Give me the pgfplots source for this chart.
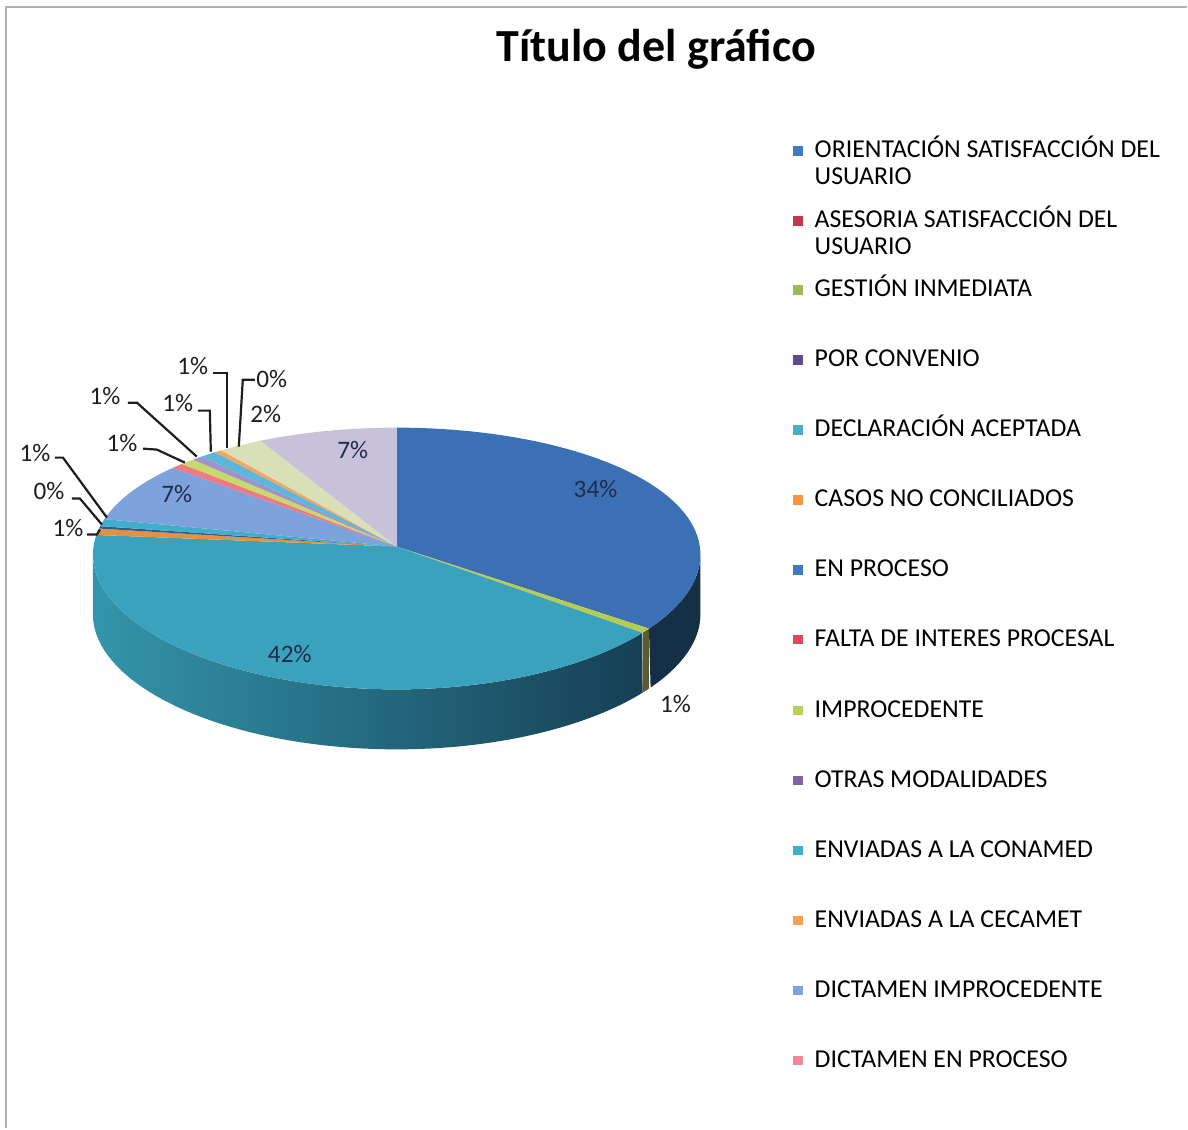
\documentclass[border=0pt]{standalone}
\usepackage{fontspec}
\setmainfont{Carlito}
\usepackage{pgfplots}
\usepackage{pgfplotstable}
\pgfplotsset{compat=1.18}

\definecolor{cOri}{HTML}{3C70B4}
\definecolor{cGes}{HTML}{B9CC4E}
\definecolor{cDec}{HTML}{3BA2BE}
\definecolor{cCas}{HTML}{E8913C}
\definecolor{cEnp}{HTML}{2E5C9A}
\definecolor{cAqa}{HTML}{3FAFCB}
\definecolor{cDim}{HTML}{7DA2DC}
\definecolor{cPnk}{HTML}{EE7A85}
\definecolor{cYgr}{HTML}{C6D96C}
\definecolor{cPur}{HTML}{9F93C9}
\definecolor{cAqb}{HTML}{5DB7DB}
\definecolor{cOrb}{HTML}{F2A65E}
\definecolor{cLgr}{HTML}{D9DFB7}
\definecolor{cLav}{HTML}{C7C1DA}
\definecolor{wOri}{HTML}{152F47}
\definecolor{wGes}{HTML}{5E5A30}
\definecolor{wDecL}{HTML}{3395AB}
\definecolor{wDecM}{HTML}{2A7C90}
\definecolor{wDecR}{HTML}{163F55}
% legend colours
\definecolor{lA}{HTML}{3E7CC0}
\definecolor{lB}{HTML}{C0394A}
\definecolor{lC}{HTML}{9BBB59}
\definecolor{lD}{HTML}{604A8B}
\definecolor{lE}{HTML}{4BACC6}
\definecolor{lF}{HTML}{F79646}
\definecolor{lG}{HTML}{3E7CC0}
\definecolor{lH}{HTML}{E0485A}
\definecolor{lI}{HTML}{B5D35A}
\definecolor{lJ}{HTML}{8064A2}
\definecolor{lK}{HTML}{3DAFD0}
\definecolor{lL}{HTML}{F4A055}
\definecolor{lM}{HTML}{7EA3DD}
\definecolor{lN}{HTML}{EE8A95}
\definecolor{inlab}{HTML}{1F2D4D}
\definecolor{outlab}{HTML}{1E1E1E}

% slice shares (percent), clockwise from 12 o'clock
\pgfplotstableread{
val  col
34.4 cOri
0.6  cGes
42.4 cDec
0.8  cCas
0.3  cEnp
0.9  cAqa
7.4  cDim
0.7  cPnk
0.8  cYgr
0.6  cPur
0.9  cAqb
0.4  cOrb
2.4  cLgr
7.4  cLav
}\pietable

\newcommand{\legfont}{\fontsize{12.9}{15}\selectfont}
\newcommand{\labfont}{\fontsize{12.6}{15}\selectfont}

\begin{document}
\begin{tikzpicture}
\begin{axis}[
  x=0.5pt, y=0.5pt,
  xmin=0, xmax=1188, ymin=0, ymax=1129,
  hide axis, clip=false,
  declare function={
    px(\t)=397+304*sin(\t);
    py(\t)=574+131*cos(\t)-4*cos(\t)*cos(\t);
    wt(\s,\ta,\tb)=(\s<1)*(\ta+\s*(\tb-\ta))+(\s>=1)*(\tb-(\s-1)*(\tb-\ta));
  },
]
\path (axis cs:0,0) rectangle (axis cs:1188,1129);
\draw[gray!60, line width=1pt] (axis cs:6,0) -- (axis cs:6,1122) -- (axis cs:1188,1122);

% side walls (front half only)
\addplot[draw=none, fill=wOri, domain=0:2, samples=121]
  ({px(wt(x,90,123.84))},{py(wt(x,90,123.84))-60*(x>=1)}) -- cycle;
\addplot[draw=none, fill=wGes, domain=0:2, samples=21]
  ({px(wt(x,123.84,126))},{py(wt(x,123.84,126))-60*(x>=1)}) -- cycle;
\addplot[draw=none, left color=wDecL, middle color=wDecM, right color=wDecR, domain=0:2, samples=301]
  ({px(wt(x,126,270))},{py(wt(x,126,270))-60*(x>=1)}) -- cycle;

% top faces
\def\sCum{0}
\pgfplotsforeachungrouped \i in {0,...,13}{%
  \pgfplotstablegetelem{\i}{val}\of\pietable \let\sVal\pgfplotsretval
  \pgfplotstablegetelem{\i}{col}\of\pietable \let\sCol\pgfplotsretval
  \pgfmathsetmacro\sA{\sCum*3.6}%
  \pgfmathsetmacro\sB{(\sCum+\sVal)*3.6}%
  \pgfmathsetmacro\sCum{\sCum+\sVal}%
  \edef\cmd{\noexpand\addplot[fill=\sCol, draw=none, domain=\sA:\sB, samples=60]
    ({px(x)},{py(x)}) -- (axis cs:397,582) -- cycle;}%
  \cmd
}

% leader lines
\addplot[outlab, line width=1.1pt] coordinates {(213,756) (227,756) (227,681)};
\addplot[outlab, line width=1.1pt] coordinates {(255,749) (243,749) (239,682)};
\addplot[outlab, line width=1.1pt] coordinates {(198,718) (210,718) (211,677)};
\addplot[outlab, line width=1.1pt] coordinates {(128,726) (137,726) (197,672)};
\addplot[outlab, line width=1.1pt] coordinates {(143,680) (157,679) (185,666)};
\addplot[outlab, line width=1.1pt] coordinates {(55,671) (63,671) (107,611)};
\addplot[outlab, line width=1.1pt] coordinates {(72,630) (80,630) (102,604)};
\addplot[outlab, line width=1.1pt] coordinates {(87,594) (97,594) (100,599)};

% data labels
\node[anchor=base, inner sep=0, font=\labfont, text=inlab] at (axis cs:596,631) {34\%};
\node[anchor=base, inner sep=0, font=\labfont, text=inlab] at (axis cs:290,466) {42\%};
\node[anchor=base, inner sep=0, font=\labfont, text=inlab] at (axis cs:177,626) {7\%};
\node[anchor=base, inner sep=0, font=\labfont, text=inlab] at (axis cs:353,670) {7\%};
\node[anchor=base, inner sep=0, font=\labfont, text=outlab] at (axis cs:676,416) {1\%};
\node[anchor=base, inner sep=0, font=\labfont, text=outlab] at (axis cs:266,706) {2\%};
\node[anchor=base, inner sep=0, font=\labfont, text=outlab] at (axis cs:272,741) {0\%};
\node[anchor=base, inner sep=0, font=\labfont, text=outlab] at (axis cs:193,754) {1\%};
\node[anchor=base, inner sep=0, font=\labfont, text=outlab] at (axis cs:178,717) {1\%};
\node[anchor=base, inner sep=0, font=\labfont, text=outlab] at (axis cs:105,724) {1\%};
\node[anchor=base, inner sep=0, font=\labfont, text=outlab] at (axis cs:122,677) {1\%};
\node[anchor=base, inner sep=0, font=\labfont, text=outlab] at (axis cs:35,667) {1\%};
\node[anchor=base, inner sep=0, font=\labfont, text=outlab] at (axis cs:49,629) {0\%};
\node[anchor=base, inner sep=0, font=\labfont, text=outlab] at (axis cs:68,592) {1\%};

% title
\node[anchor=base, inner sep=0, font=\fontsize{23}{27}\selectfont\bfseries] at (axis cs:657,1067) {Título del gráfico};

% legend
\fill[lA] (axis cs:794,973) rectangle (axis cs:803.5,982.5);
\node[anchor=base west, inner sep=0, font=\legfont] at (axis cs:815,971) {ORIENTACIÓN SATISFACCIÓN DEL};
\node[anchor=base west, inner sep=0, font=\legfont] at (axis cs:815,944) {USUARIO};
\fill[lB] (axis cs:794,903) rectangle (axis cs:803.5,912.5);
\node[anchor=base west, inner sep=0, font=\legfont] at (axis cs:815,901) {ASESORIA SATISFACCIÓN DEL};
\node[anchor=base west, inner sep=0, font=\legfont] at (axis cs:815,874) {USUARIO};
\fill[lC] (axis cs:794,834) rectangle (axis cs:803.5,843.5);
\node[anchor=base west, inner sep=0, font=\legfont] at (axis cs:815,832) {GESTIÓN INMEDIATA};
\fill[lD] (axis cs:794,764) rectangle (axis cs:803.5,773.5);
\node[anchor=base west, inner sep=0, font=\legfont] at (axis cs:815,762) {POR CONVENIO};
\fill[lE] (axis cs:794,694) rectangle (axis cs:803.5,703.5);
\node[anchor=base west, inner sep=0, font=\legfont] at (axis cs:815,692) {DECLARACIÓN ACEPTADA};
\fill[lF] (axis cs:794,624) rectangle (axis cs:803.5,633.5);
\node[anchor=base west, inner sep=0, font=\legfont] at (axis cs:815,622) {CASOS NO CONCILIADOS};
\fill[lG] (axis cs:794,554) rectangle (axis cs:803.5,563.5);
\node[anchor=base west, inner sep=0, font=\legfont] at (axis cs:815,552) {EN PROCESO};
\fill[lH] (axis cs:794,484) rectangle (axis cs:803.5,493.5);
\node[anchor=base west, inner sep=0, font=\legfont] at (axis cs:815,482) {FALTA DE INTERES PROCESAL};
\fill[lI] (axis cs:794,413) rectangle (axis cs:803.5,422.5);
\node[anchor=base west, inner sep=0, font=\legfont] at (axis cs:815,411) {IMPROCEDENTE};
\fill[lJ] (axis cs:794,343) rectangle (axis cs:803.5,352.5);
\node[anchor=base west, inner sep=0, font=\legfont] at (axis cs:815,341) {OTRAS MODALIDADES};
\fill[lK] (axis cs:794,273) rectangle (axis cs:803.5,282.5);
\node[anchor=base west, inner sep=0, font=\legfont] at (axis cs:815,271) {ENVIADAS A LA CONAMED};
\fill[lL] (axis cs:794,203) rectangle (axis cs:803.5,212.5);
\node[anchor=base west, inner sep=0, font=\legfont] at (axis cs:815,201) {ENVIADAS A LA CECAMET};
\fill[lM] (axis cs:794,133) rectangle (axis cs:803.5,142.5);
\node[anchor=base west, inner sep=0, font=\legfont] at (axis cs:815,131) {DICTAMEN IMPROCEDENTE};
\fill[lN] (axis cs:794,63) rectangle (axis cs:803.5,72.5);
\node[anchor=base west, inner sep=0, font=\legfont] at (axis cs:815,61) {DICTAMEN EN PROCESO};
\end{axis}
\end{tikzpicture}
\end{document}
